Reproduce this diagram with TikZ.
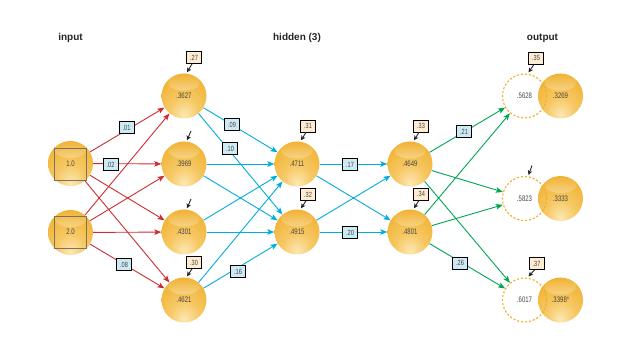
\documentclass[tikz,border=0pt]{standalone}
\usepackage{fontspec}
\setmainfont{Liberation Sans}
\newfontfamily\numfont{Liberation Sans}[FakeStretch=0.75]
\usetikzlibrary{arrows.meta,fadings}
\definecolor{orbLight}{RGB}{252,232,180}
\definecolor{orbMid}{RGB}{246,200,100}
\definecolor{orbDark}{RGB}{240,176,45}
\definecolor{dashorange}{RGB}{240,176,40}
\definecolor{numgray}{RGB}{70,70,70}
\definecolor{redline}{RGB}{205,45,50}
\definecolor{cyanline}{RGB}{0,174,219}
\definecolor{greenline}{RGB}{0,166,81}
\definecolor{wfill}{RGB}{205,233,243}
\definecolor{bfill}{RGB}{253,236,210}
\definecolor{sqgray}{RGB}{125,112,100}
\pgfdeclareradialshading{orb}{\pgfpoint{0bp}{-22bp}}{color(0bp)=(orbLight); color(16bp)=(orbMid); color(38bp)=(orbDark); color(60bp)=(orbDark); color(75bp)=(orbDark)}
\tikzset{
  orb/.style={circle, minimum size=45pt, inner sep=0pt, shading=orb,
    text=numgray, font=\numfont\fontsize{8}{9}\selectfont,
    path picture={\fill[white,opacity=.75,path fading=north] ([yshift=-9pt]path picture bounding box.north) ellipse (16pt and 8pt);}},
  ghost/.style={circle, minimum size=44pt, inner sep=0pt, draw=dashorange, line width=1.1pt,
    dash pattern=on 2.2pt off 1.8pt, text=numgray, font=\numfont\fontsize{8}{9}\selectfont},
  sqbox/.style={draw=sqgray, line width=0.7pt, minimum size=32pt, inner sep=0pt,
    text=numgray, font=\numfont\fontsize{8}{9}\selectfont},
  wbox/.style={draw=black, fill=wfill, line width=0.8pt, minimum width=15pt, minimum height=12pt,
    inner sep=0pt, text=numgray, font=\numfont\fontsize{7.5}{8}\selectfont},
  bbox/.style={wbox, fill=bfill},
  conn/.style={line width=0.9pt, -{Stealth[length=7pt,width=5.5pt,inset=1.5pt]}},
  redc/.style={conn, draw=redline},
  cyanc/.style={conn, draw=cyanline},
  greenc/.style={conn, draw=greenline},
  biasarr/.style={draw=black!85, line width=0.9pt, -{Stealth[length=4.5pt,width=4.5pt,inset=1pt]}},
  head/.style={font=\bfseries\fontsize{10}{12}\selectfont, text=black!85}
}
\begin{document}
\begin{tikzpicture}[x=1pt,y=-1pt]
\useasboundingbox (0,0) rectangle (638,363);
% headings
\node[head] (tin) at (70.5,38) {input};
\node[head] (thid) at (297,38) {hidden (3)};
\node[head] (tout) at (542.5,38) {output};
% input
\node[orb] (in1) at (70.5,163.5) {};
\node[orb] (in2) at (70.5,232.5) {};
\node[sqbox] (sq1) at (70.5,164) {1.0};
\node[sqbox] (sq2) at (70.5,232) {2.0};
% hidden layer 1
\node[orb] (h11) at (184,96) {.3627};
\node[orb] (h12) at (184,164) {.3969};
\node[orb] (h13) at (184,232) {.4301};
\node[orb] (h14) at (184,300) {.4621};
% hidden layer 2
\node[orb] (h21) at (297,164) {.4711};
\node[orb] (h22) at (297,232) {.4915};
% hidden layer 3
\node[orb] (h31) at (410,164) {.4649};
\node[orb] (h32) at (410,232) {.4801};
% output
\node[orb] (s1) at (560.5,96) {.3269};
\node[orb] (s2) at (560.5,198.5) {.3333};
\node[orb] (s3) at (560.5,300) {.3398\textcolor{redline}{*}};
\node[ghost] (o1) at (524.5,96) {.5628};
\node[ghost] (o2) at (524.5,198.5) {.5823};
\node[ghost] (o3) at (524.5,300) {.6017};
% input -> hidden 1
\foreach \s in {in1,in2}{
  \foreach \t in {h11,h12,h13,h14}{
    \draw[redc] (\s) -- (\t);
  }
}
% hidden 1 -> hidden 2
\foreach \s in {h11,h12,h13,h14}{
  \foreach \t in {h21,h22}{
    \draw[cyanc] (\s) -- (\t);
  }
}
% hidden 2 -> hidden 3
\foreach \s in {h21,h22}{
  \foreach \t in {h31,h32}{
    \draw[cyanc] (\s) -- (\t);
  }
}
% hidden 3 -> output
\foreach \s in {h31,h32}{
  \foreach \t in {o1,o2,o3}{
    \draw[greenc] (\s) -- (\t);
  }
}
% weight labels
\node[wbox] (w01) at (126.5,127.5) {.01};
\node[wbox] (w02) at (110.5,164.5) {.02};
\node[wbox] (w08) at (124,264.5) {.08};
\node[wbox] (w09) at (232,124.5) {.09};
\node[wbox] (w10) at (230,148.5) {.10};
\node[wbox] (w16) at (238,271.5) {.16};
\node[wbox] (w17) at (350,164.5) {.17};
\node[wbox] (w20) at (350,232.5) {.20};
\node[wbox] (w21) at (464,131.5) {.21};
\node[wbox] (w26) at (460,263) {.26};
% bias boxes
\node[bbox] (b27) at (194,57.5) {.27};
\node[bbox] (b30) at (194,262.5) {.30};
\node[bbox] (b31) at (308,126) {.31};
\node[bbox] (b32) at (308,194.5) {.32};
\node[bbox] (b33) at (421,126) {.33};
\node[bbox] (b34) at (421,194) {.34};
\node[bbox] (b35) at (536,58) {.35};
\node[bbox] (b37) at (536.5,263.5) {.37};
\coordinate (a12) at (191,131);
\coordinate (a13) at (191,199);
\coordinate (ao2) at (532,165.5);
% bias arrows
\draw[biasarr] ([xshift=-2pt]b27.south) -- ([xshift=3pt,yshift=1pt]h11.north);
\draw[biasarr] (a12) -- ([xshift=3pt,yshift=1pt]h12.north);
\draw[biasarr] (a13) -- ([xshift=3pt,yshift=1pt]h13.north);
\draw[biasarr] ([xshift=-2pt]b30.south) -- ([xshift=3pt,yshift=1pt]h14.north);
\draw[biasarr] ([xshift=-2pt]b31.south) -- ([xshift=4pt,yshift=1pt]h21.north);
\draw[biasarr] ([xshift=-2pt]b32.south) -- ([xshift=4pt,yshift=1pt]h22.north);
\draw[biasarr] ([xshift=-2pt]b33.south) -- ([xshift=4pt,yshift=1pt]h31.north);
\draw[biasarr] ([xshift=-2pt]b34.south) -- ([xshift=4pt,yshift=1pt]h32.north);
\draw[biasarr] ([xshift=-2pt]b35.south) -- ([xshift=4pt,yshift=1pt]o1.north);
\draw[biasarr] (ao2) -- ([xshift=4pt,yshift=1pt]o2.north);
\draw[biasarr] ([xshift=-2pt]b37.south) -- ([xshift=4pt,yshift=1pt]o3.north);
\end{tikzpicture}
\end{document}
